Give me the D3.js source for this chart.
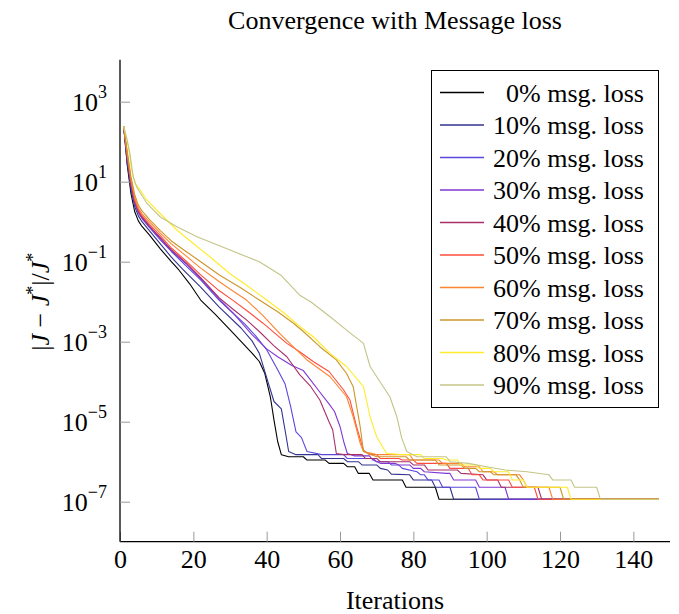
<!DOCTYPE html>
<html lang="en">
<head>
<meta charset="UTF-8">
<title>Convergence with Message loss</title>
<script src="https://d3js.org/d3.v7.min.js"></script>
<style>
    body { margin: 0; background: #fff; }
    svg text { font-family: "Liberation Serif", "Times New Roman", serif; fill: #000; }
</style>
</head>
<body>
<div id="chart"></div>
<script>
    // [iteration, |J - J*| / J*]
    const loss0 = [[1,2.45e2],[2,2.5e1],[3,5.0],[4,1.8],[5,1.05],[6,7.6e-1],[8,4.7e-1],[11,2.1e-1],[14,1.0e-1],[16,6.3e-2],[19,2.8e-2],[22,1.1e-2],[26,4.8e-3],[31,1.6e-3],[36,5.2e-4],[38,3.2e-4],[39.5,1.6e-4],[41,4.2e-5],[42,1.1e-5],[43,3.2e-6],[44,1.5e-6],[46,1.33e-6],[50,1.33e-6],[51,1.1e-6],[56,1.1e-6],[57,9.1e-7],[61,9.1e-7],[62,7.5e-7],[64,7.5e-7],[65,5.1e-7],[68,5.1e-7],[69,3.5e-7],[77,3.5e-7],[78,2.3e-7],[86,2.3e-7],[87,1.15e-7],[147,1.15e-7]];
    const loss10 = [[1,2.45e2],[2,2.8e1],[3,6.3],[4,2.4],[5,1.4],[6,1.0],[8,6.0e-1],[11,2.8e-1],[14,1.3e-1],[17,6.6e-2],[22,2.3e-2],[27,7.4e-3],[33,2.2e-3],[36,1.05e-3],[38,5.1e-4],[40,1.26e-4],[42,3.2e-5],[44,2.1e-5],[45,6.3e-6],[46,1.8e-6],[48,1.5e-6],[54,1.5e-6],[55,1.2e-6],[61,1.2e-6],[62,1.0e-6],[65,1.0e-6],[66,8.3e-7],[70,8.3e-7],[71,6.8e-7],[73,6.2e-7],[74,4.9e-7],[79,4.7e-7],[80,3.5e-7],[85,3.5e-7],[86,2.3e-7],[90,2.3e-7],[91,1.15e-7],[147,1.15e-7]];
    const loss20 = [[1,2.45e2],[2,3.5e1],[3,7.9],[4,2.8],[5,1.66],[6,1.2],[8,7.2e-1],[11,3.5e-1],[14,1.8e-1],[18,7.9e-2],[22,3.5e-2],[27,1.1e-2],[31,5.0e-3],[34,2.8e-3],[37,1.4e-3],[40,6.3e-4],[43,2.0e-4],[45,8.9e-5],[46.5,2.5e-5],[48,5.6e-6],[49.5,4.0e-6],[51,1.8e-6],[55,1.5e-6],[61,1.5e-6],[62,1.2e-6],[69,1.2e-6],[70,1.0e-6],[73,1.0e-6],[74,8.3e-7],[76,8.3e-7],[77,6.8e-7],[81,5.6e-7],[82,4.7e-7],[83,4.7e-7],[84,3.5e-7],[87,3.5e-7],[88,2.3e-7],[97,2.3e-7],[98,1.15e-7],[147,1.15e-7]];
    const loss30 = [[1,2.45e2],[2,3.8e1],[3,8.3],[4,3.0],[5,1.78],[6,1.26],[8,7.6e-1],[11,3.8e-1],[14,1.9e-1],[18,8.9e-2],[22,3.8e-2],[27,1.2e-2],[31,5.0e-3],[36,1.5e-3],[40,6.6e-4],[43,4.2e-4],[47,2.5e-4],[50,1.9e-4],[52,1.1e-4],[54,6.3e-5],[57,2.8e-5],[58.5,1.8e-5],[60,7.6e-6],[61,3.2e-6],[62,1.6e-6],[64,1.4e-6],[68,1.4e-6],[69,1.1e-6],[71,9.1e-7],[75,9.1e-7],[76,8.3e-7],[79,8.3e-7],[80,6.8e-7],[82,6.8e-7],[83,5.6e-7],[89,5.1e-7],[90,5.1e-7],[91,3.5e-7],[97,3.5e-7],[98,2.3e-7],[105,2.3e-7],[106,1.15e-7],[147,1.15e-7]];
    const loss40 = [[1,2.45e2],[2,4.0e1],[3,8.9],[4,3.2],[5,1.86],[6,1.32],[8,7.9e-1],[11,4.0e-1],[14,2.0e-1],[18,9.5e-2],[22,4.0e-2],[27,1.26e-2],[31,6.3e-3],[34.5,3.5e-3],[38,1.8e-3],[42,7.9e-4],[45.5,4.2e-4],[49,1.5e-4],[52,7.6e-5],[54.5,3.5e-5],[57,1.0e-5],[58,6.3e-6],[59,1.6e-6],[61,1.5e-6],[66,1.5e-6],[67,1.2e-6],[70,1.2e-6],[71,1.0e-6],[79,1.0e-6],[80,8.3e-7],[83,8.3e-7],[84,6.2e-7],[92,6.2e-7],[93,5.1e-7],[99,4.7e-7],[100,3.5e-7],[103,3.5e-7],[104,2.3e-7],[114,2.3e-7],[115,1.15e-7],[147,1.15e-7]];
    const loss50 = [[1,2.45e2],[2,4.5e1],[3,1.0e1],[4,3.5],[5,2.0],[6,1.41],[8,8.7e-1],[11,4.5e-1],[14,2.2e-1],[18,1.05e-1],[22,4.7e-2],[27,1.9e-2],[31,1.05e-2],[35,5.6e-3],[39,2.9e-3],[45.5,9.1e-4],[49,5.6e-4],[52.7,3.2e-4],[57,1.8e-4],[61,6.2e-5],[62.7,3.5e-5],[64.5,7.6e-6],[66.4,1.95e-6],[68,1.5e-6],[70,1.5e-6],[71,1.2e-6],[76,1.2e-6],[77,1.1e-6],[80,1.1e-6],[81,9.1e-7],[89,9.1e-7],[90,6.8e-7],[95,6.8e-7],[96,4.7e-7],[98,4.7e-7],[99,3.5e-7],[106,3.5e-7],[107,2.3e-7],[113,2.3e-7],[114,1.15e-7],[147,1.15e-7]];
    const loss60 = [[1,2.45e2],[2,4.8e1],[3,1.12e1],[4,4.0],[5,2.24],[6,1.58],[8,1.0],[11,5.2e-1],[14,2.8e-1],[18,1.4e-1],[22,6.9e-2],[27,3.2e-2],[31,1.8e-2],[34.5,1.1e-2],[39,4.5e-3],[43.6,1.6e-3],[47,7.9e-4],[51,3.5e-4],[57.3,1.33e-4],[61.8,4.2e-5],[63.6,1.33e-5],[65.5,2.9e-6],[66.4,1.8e-6],[70,1.5e-6],[79,1.5e-6],[80,1.1e-6],[87,1.1e-6],[88,9.1e-7],[93,9.1e-7],[94,7.5e-7],[98,7.5e-7],[99,5.6e-7],[102,5.6e-7],[103,4.7e-7],[109,4.7e-7],[110,3.5e-7],[111,2.3e-7],[117,2.3e-7],[118,1.15e-7],[147,1.15e-7]];
    const loss70 = [[1,2.45e2],[2,5.6e1],[3,1.32e1],[4,4.8],[5,2.6],[6,1.86],[8,1.15],[11,6.0e-1],[14,3.3e-1],[18,1.8e-1],[22,1.0e-1],[27,4.7e-2],[33,2.2e-2],[38,1.1e-2],[43,5.6e-3],[47.3,2.9e-3],[50,1.8e-3],[54.5,7.5e-4],[59,3.5e-4],[61.8,1.6e-4],[63.6,7.5e-5],[65.5,7.5e-6],[66.4,1.8e-6],[70,1.33e-6],[78,1.33e-6],[79,1.1e-6],[86,1.1e-6],[87,8.3e-7],[93,8.3e-7],[94,6.8e-7],[97,6.8e-7],[98,5.6e-7],[101,5.6e-7],[102,4.7e-7],[108,4.7e-7],[109,3.5e-7],[110,2.3e-7],[120,2.3e-7],[121,1.15e-7],[147,1.15e-7]];
    const loss80 = [[1,2.45e2],[2,1.0e2],[2.5,5.6e1],[3.2,1.95e1],[4.1,9.1],[5.5,6.2],[7.3,3.5],[11,1.58],[15.5,6.2e-1],[21,2.4e-1],[24.5,1.33e-1],[30,5.0e-2],[35,2.4e-2],[40,1.1e-2],[45,5.0e-3],[49,2.4e-3],[52.7,1.33e-3],[57.3,5.1e-4],[61.8,2.4e-4],[66.4,7.5e-5],[68.2,1.33e-5],[70,4.2e-6],[72.7,1.6e-6],[77,1.5e-6],[82,1.5e-6],[83,1.2e-6],[88,1.2e-6],[89,1.1e-6],[92,1.1e-6],[93,8.3e-7],[97,8.3e-7],[98,6.8e-7],[101,6.8e-7],[102,5.6e-7],[106,5.6e-7],[107,3.5e-7],[110,3.5e-7],[111,2.3e-7],[122,2.3e-7],[123,1.15e-7],[147,1.15e-7]];
    const loss90 = [[1,2.45e2],[1.8,1.26e2],[2.7,5.1e1],[3.6,1.33e1],[4.5,7.5],[7.3,2.9],[10.9,1.33],[15.5,7.5e-1],[21,4.2e-1],[30,1.95e-1],[38,1.0e-1],[44,4.5e-2],[49,1.45e-2],[52,1.0e-2],[57.3,4.2e-3],[61.8,1.95e-3],[66.4,9.1e-4],[68.2,2.4e-4],[71.8,7.5e-5],[73.6,4.2e-5],[75.5,1.33e-5],[76.8,4.0e-6],[78.2,1.8e-6],[81,1.33e-6],[89,1.33e-6],[90,1.0e-6],[95,9.1e-7],[100,7.5e-7],[105,6.2e-7],[111,5.6e-7],[117,4.7e-7],[118,3.5e-7],[123,3.5e-7],[124,2.3e-7],[130,2.3e-7],[131,1.15e-7],[147,1.15e-7]];

    const seriesNames = ["0% msg. loss", "10% msg. loss", "20% msg. loss", "30% msg. loss", "40% msg. loss",
                         "50% msg. loss", "60% msg. loss", "70% msg. loss", "80% msg. loss", "90% msg. loss"];
    const seriesData = [loss0, loss10, loss20, loss30, loss40, loss50, loss60, loss70, loss80, loss90];
    const seriesColors = ["#000000", "#33338f", "#5a48dc", "#8038d4", "#a8306a",
                          "#ff4c3c", "#ff8430", "#cc962a", "#ffec2a", "#c4c488"];

    const xTicks = [0, 20, 40, 60, 80, 100, 120, 140];
    const yTicks = [1e3, 1e1, 1e-1, 1e-3, 1e-5, 1e-7];
    const yTickExp = ["3", "1", "\u22121", "\u22123", "\u22125", "\u22127"];

    const W = 679, H = 614;
    const mLeft = 120, mRight = 670, mTop = 61.7, mBottom = 541.7;

    const svg = d3.select("#chart").append("svg")
        .attr("width", W)
        .attr("height", H);

    svg.append("rect").attr("width", W).attr("height", H).attr("fill", "#fff");

    const x = d3.scaleLinear().domain([0, 150]).range([mLeft, mRight]);
    const y = d3.scaleLog().domain([1e-8, 1e4]).range([mBottom, mTop]);

    // 曲线
    const line = d3.line()
        .x(d => x(d[0]))
        .y(d => y(d[1]));

    seriesData.forEach((data, i) => {
        svg.append("path")
            .datum(data)
            .attr("fill", "none")
            .attr("stroke", seriesColors[i])
            .attr("stroke-width", 1.1)
            .attr("stroke-linejoin", "round")
            .attr("d", line);
    });

    // x 轴
    const xAxis = svg.append("g")
        .attr("transform", `translate(0,${mBottom})`)
        .call(d3.axisBottom(x).tickValues(xTicks).tickSize(-10).tickSizeOuter(0).tickPadding(8));
    xAxis.select(".domain").attr("stroke", "#000").attr("stroke-width", 1.3).attr("d", `M${mLeft},0H${mRight}`);
    xAxis.selectAll(".tick line").attr("stroke", "#999");
    xAxis.selectAll(".tick text").attr("font-size", 26).attr("font-family", null);

    // y 轴
    const yAxis = svg.append("g")
        .attr("transform", `translate(${mLeft},0)`)
        .call(d3.axisLeft(y).tickValues(yTicks).tickSize(-10).tickSizeOuter(0).tickPadding(13).tickFormat(""));
    yAxis.select(".domain").attr("stroke", "#000").attr("stroke-width", 1.3).attr("d", `M0,${mTop - 2}V${mBottom}`);
    yAxis.selectAll(".tick line").attr("stroke", "#999");
    yAxis.selectAll(".tick text").each(function (d, i) {
        const t = d3.select(this)
            .attr("font-family", null)
            .attr("font-size", 26)
            .attr("dy", "0.35em");
        t.append("tspan").text("10");
        t.append("tspan").attr("font-size", 18).attr("dy", "-0.75em").text(yTickExp[i]);
    });

    // 标题和轴标签
    svg.append("text")
        .attr("x", (mLeft + mRight) / 2)
        .attr("y", 29)
        .attr("text-anchor", "middle")
        .attr("font-size", 26)
        .text("Convergence with Message loss");

    svg.append("text")
        .attr("x", (mLeft + mRight) / 2)
        .attr("y", 609)
        .attr("text-anchor", "middle")
        .attr("font-size", 26)
        .text("Iterations");

    const yl = svg.append("text")
        .attr("transform", `translate(49,${(mTop + mBottom) / 2}) rotate(-90)`)
        .attr("text-anchor", "middle")
        .attr("font-size", 26);
    yl.append("tspan").text("|");
    yl.append("tspan").attr("font-style", "italic").text("J");
    yl.append("tspan").text(" \u2212 ");
    yl.append("tspan").attr("font-style", "italic").text("J");
    yl.append("tspan").attr("font-size", 18).attr("dy", -10).text("*");
    yl.append("tspan").attr("dy", 10).text("|/");
    yl.append("tspan").attr("font-style", "italic").text("J");
    yl.append("tspan").attr("font-size", 18).attr("dy", -10).text("*");

    // 图例
    const lg = svg.append("g");
    lg.append("rect")
        .attr("x", 431.5).attr("y", 70.5)
        .attr("width", 227).attr("height", 337)
        .attr("fill", "#fff")
        .attr("stroke", "#000")
        .attr("stroke-width", 1);

    seriesNames.forEach((name, i) => {
        const cy = 92.5 + i * 32.5;
        lg.append("line")
            .attr("x1", 440).attr("x2", 484)
            .attr("y1", cy).attr("y2", cy)
            .attr("stroke", seriesColors[i])
            .attr("stroke-width", 1.4);
        lg.append("text")
            .attr("x", 644)
            .attr("y", cy + 9)
            .attr("text-anchor", "end")
            .attr("font-size", 26)
            .text(name);
    });
</script>
</body>
</html>
